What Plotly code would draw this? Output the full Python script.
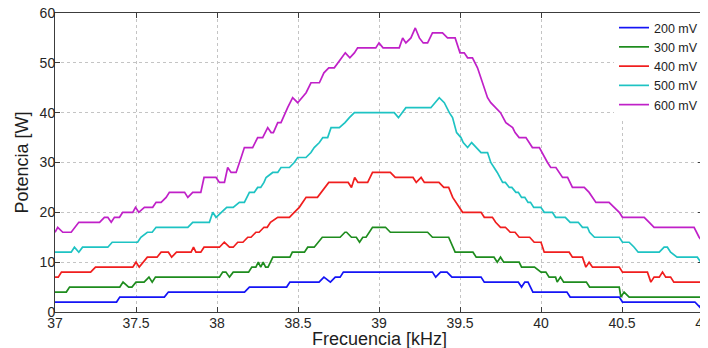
import plotly.graph_objects as go

# ---- data (vertices of each trace) ----
freq_200 = [37.0, 37.38, 37.40, 37.675, 37.70, 38.17, 38.20, 38.43, 38.45, 38.63,
            38.66, 38.70, 38.73, 38.76, 38.78, 39.33, 39.35, 39.38, 39.42, 39.45,
            39.63, 39.65, 39.86, 39.88, 39.90, 39.92, 39.95, 40.16, 40.18, 40.483,
            40.503, 40.95, 40.98, 41.0]
pot_200 = [2, 2, 3, 3, 4, 4, 5, 5, 6, 6,
           7, 6, 7, 7, 8, 8, 7, 8, 8, 7,
           7, 6, 6, 5, 6, 6, 4, 4, 3, 3,
           2, 2, 1, 2]

freq_300 = [37.0, 37.07, 37.09, 37.40, 37.42, 37.455, 37.475, 37.50, 37.55, 37.58,
            37.60, 37.62, 38.015, 38.035, 38.055, 38.077, 38.10, 38.195, 38.215, 38.24,
            38.255, 38.27, 38.285, 38.30, 38.315, 38.345, 38.45, 38.465, 38.54, 38.56,
            38.60, 38.65, 38.76, 38.79, 38.80, 38.83, 38.86, 38.88, 38.90, 38.92,
            38.96, 39.04, 39.07, 39.30, 39.33, 39.43, 39.47, 39.58, 39.60, 39.71,
            39.73, 39.75, 39.77, 39.865, 39.88, 39.96, 40.0, 40.03, 40.05, 40.09,
            40.10, 40.12, 40.14, 40.28, 40.30, 40.483, 40.493, 40.513, 40.544, 41.0]
pot_300 = [4, 4, 5, 5, 6, 5, 5, 6, 6, 7,
           6, 7, 7, 8, 8, 7, 8, 8, 9, 9,
           10, 9, 10, 9, 9, 11, 11, 12, 12, 13,
           13, 15, 15, 16, 16, 15, 15, 14, 15, 15,
           17, 17, 16, 16, 15, 15, 12, 12, 11, 11,
           10, 11, 10, 10, 9, 9, 8, 8, 7, 7,
           6, 7, 6, 6, 5, 5, 3, 4, 3, 3]

freq_400 = [37.0, 37.02, 37.04, 37.22, 37.25, 37.48, 37.50, 37.52, 37.57, 37.63,
            37.655, 37.70, 37.72, 37.75, 37.84, 37.855, 37.87, 37.90, 37.92, 38.015,
            38.045, 38.077, 38.10, 38.128, 38.16, 38.19, 38.21, 38.24, 38.26, 38.29,
            38.31, 38.33, 38.375, 38.447, 38.477, 38.508, 38.55, 38.62, 38.69, 38.81,
            38.83, 38.85, 38.87, 38.93, 38.96, 39.07, 39.10, 39.21, 39.23, 39.26,
            39.28, 39.37, 39.40, 39.43, 39.455, 39.495, 39.516, 39.63, 39.65, 39.70,
            39.72, 39.75, 39.78, 39.81, 39.84, 39.865, 39.93, 39.958, 40.0, 40.02,
            40.174, 40.194, 40.256, 40.277, 40.297, 40.318, 40.483, 40.503, 40.657, 40.678,
            40.698, 40.73, 40.75, 40.77, 40.80, 40.82, 41.0]
pot_400 = [7, 7, 8, 8, 9, 9, 10, 9, 11, 11,
           12, 12, 11, 12, 12, 13, 12, 12, 13, 13,
           14, 13, 13, 14, 14, 15, 15, 16, 16, 17,
           17, 18, 19, 19, 20, 21, 23, 23, 26, 26,
           25, 27, 26, 26, 28, 28, 27, 27, 26, 27,
           26, 26, 25, 25, 23, 21, 20, 20, 19, 19,
           18, 17, 17, 16, 16, 15, 15, 14, 14, 12,
           12, 11, 11, 9, 10, 9, 9, 8, 8, 6,
           7, 7, 8, 7, 7, 6, 6]

freq_500 = [37.0, 37.10, 37.12, 37.147, 37.17, 37.326, 37.353, 37.51, 37.53, 37.57,
            37.60, 37.624, 37.82, 37.85, 37.953, 37.974, 37.994, 38.025, 38.06, 38.10,
            38.138, 38.169, 38.20, 38.23, 38.251, 38.27, 38.29, 38.303, 38.344, 38.375,
            38.395, 38.447, 38.477, 38.498, 38.549, 38.58, 38.60, 38.632, 38.653, 38.683,
            38.704, 38.755, 38.79, 38.817, 38.848, 39.094, 39.12, 39.166, 39.32, 39.372,
            39.403, 39.434, 39.454, 39.479, 39.506, 39.52, 39.547, 39.572, 39.60, 39.63,
            39.67, 39.69, 39.73, 39.763, 39.78, 39.804, 39.82, 39.845, 39.86, 39.88,
            39.90, 39.92, 39.935, 39.955, 39.999, 40.02, 40.07, 40.09, 40.15, 40.18,
            40.23, 40.256, 40.287, 40.30, 40.33, 40.483, 40.503, 40.544, 40.575, 40.60,
            40.73, 40.76, 40.78, 40.80, 40.84, 40.965, 40.986, 41.0]
pot_500 = [12, 12, 13, 12, 13, 13, 14, 14, 15, 16,
           16, 17, 17, 18, 18, 20, 19, 20, 21, 21,
           22, 22, 24, 24, 25, 25, 26, 27, 28, 28,
           29, 29, 30, 31, 31, 32, 33, 34, 35, 35,
           37, 37, 38, 39, 40, 40, 39, 41, 41, 43,
           42, 40, 39, 36, 35, 34, 33, 34, 33, 32,
           32, 30, 28, 26, 26, 25, 25, 24, 24, 23,
           23, 22, 22, 21, 21, 20, 20, 19, 19, 18,
           18, 17, 17, 16, 15, 15, 14, 14, 13, 12,
           12, 13, 13, 12, 11, 11, 10, 10]

freq_600 = [37.0, 37.017, 37.048, 37.10, 37.147, 37.275, 37.305, 37.326, 37.347, 37.367,
            37.398, 37.418, 37.48, 37.497, 37.517, 37.552, 37.603, 37.624, 37.655, 37.686,
            37.706, 37.80, 37.82, 37.85, 37.90, 37.92, 37.994, 38.015, 38.046, 38.066,
            38.087, 38.118, 38.149, 38.169, 38.22, 38.251, 38.282, 38.313, 38.334, 38.348,
            38.375, 38.395, 38.436, 38.467, 38.498, 38.55, 38.58, 38.632, 38.66, 38.69,
            38.724, 38.792, 38.82, 38.848, 38.868, 38.98, 39.0, 39.025, 39.125, 39.146,
            39.166, 39.197, 39.224, 39.249, 39.273, 39.30, 39.33, 39.392, 39.423, 39.47,
            39.50, 39.526, 39.547, 39.577, 39.608, 39.64, 39.67, 39.69, 39.72, 39.75,
            39.783, 39.825, 39.84, 39.865, 39.907, 39.947, 39.99, 40.02, 40.04, 40.06,
            40.092, 40.133, 40.164, 40.194, 40.267, 40.297, 40.339, 40.42, 40.45, 40.483,
            40.503, 40.637, 40.668, 40.698, 40.945, 40.976, 41.0]
pot_600 = [16, 17, 16, 16, 18, 18, 19, 19, 18, 19,
           19, 20, 20, 21, 20, 21, 21, 22, 22, 23,
           24, 24, 23, 24, 24, 27, 27, 26, 26, 29,
           28, 28, 31, 33, 33, 35, 35, 37, 36, 36,
           38, 38, 41, 43, 42, 44, 46, 46, 48, 49,
           49, 52, 51, 52, 53, 53, 54, 53, 53, 55,
           54, 55, 57, 55, 54, 54, 56, 56, 55, 55,
           52, 52, 51, 51, 49, 46, 43, 42, 41, 40,
           38, 37, 36, 35, 35, 33, 33, 31, 30, 29,
           29, 27, 27, 25, 25, 24, 22, 22, 21, 20,
           19, 19, 18, 17, 17, 15, 14]

series_names = ["200 mV", "300 mV", "400 mV", "500 mV", "600 mV"]
series_colors = ["#1414f5", "#1e8c1e", "#f01e1e", "#1ec3c3", "#c020c8"]
x_tick_vals = [37, 37.5, 38, 38.5, 39, 39.5, 40, 40.5, 41]
x_tick_text = ["37", "37.5", "38", "38.5", "39", "39.5", "40", "40.5", "41"]
y_tick_vals = [0, 10, 20, 30, 40, 50, 60]
x_title = "Frecuencia [kHz]"
y_title = "Potencia [W]"

freqs = [freq_200, freq_300, freq_400, freq_500, freq_600]
pots = [pot_200, pot_300, pot_400, pot_500, pot_600]

fig = go.Figure()
for fx, py, name, col in zip(freqs, pots, series_names, series_colors):
    fig.add_trace(go.Scatter(x=fx, y=py, mode="lines", name=name,
                             line=dict(color=col, width=1.7)))

axis_common = dict(
    showline=True, linecolor="#3c3c3c", linewidth=1, mirror="ticks",
    ticks="inside", ticklen=5, tickcolor="#3c3c3c",
    showgrid=True, gridcolor="#c4c4c4", gridwidth=1, griddash="dot",
    zeroline=False, tickfont=dict(size=14, color="#262626"),
    automargin=False, ticklabeloverflow="allow",
)

# the page body adds an 8 px offset, so the figure is 700 x 340
fig.update_layout(
    width=700, height=340,
    margin=dict(l=47, r=5, t=5, b=36, autoexpand=False),
    plot_bgcolor="white", paper_bgcolor="white",
    font=dict(family="Liberation Sans, Arial, sans-serif", size=14, color="#1e1e1e"),
    legend=dict(x=1.0, y=1.0, xanchor="right", yanchor="top",
                bgcolor="white", borderwidth=0, font=dict(size=12.5),
                tracegroupgap=0),
    xaxis=dict(range=[37, 41], tickvals=x_tick_vals, ticktext=x_tick_text,
               ticklabelstandoff=-2, **axis_common),
    yaxis=dict(range=[0, 60], tickvals=y_tick_vals, ticklabelstandoff=-4,
               **axis_common),
    annotations=[
        dict(text=x_title, xref="paper", yref="paper", x=0.5, y=0,
             yshift=-15, xanchor="center", yanchor="top", showarrow=False,
             font=dict(size=18, color="#1e1e1e")),
        dict(text=y_title, xref="paper", yref="paper", x=0, y=0.5,
             xshift=-22, xanchor="right", yanchor="middle", showarrow=False,
             textangle=-90, font=dict(size=18, color="#1e1e1e")),
    ],
)

fig.write_html("out.html")
